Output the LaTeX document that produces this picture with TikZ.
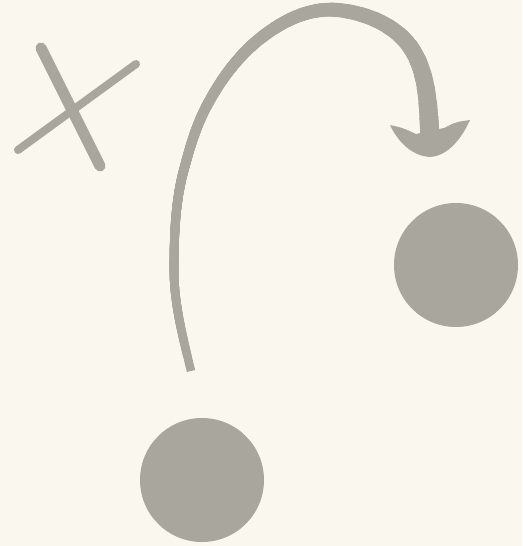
\documentclass[tikz,border=0pt]{standalone}
\definecolor{bgc}{HTML}{FAF8EE}
\definecolor{ink}{HTML}{A8A69D}
\begin{document}
\begin{tikzpicture}[x=1pt,y=-1pt,
  dot/.style={circle,fill=ink,draw=none,minimum size=124pt,inner sep=0pt},
  stroke/.style={draw=ink,line cap=round},
  shaft/.style={draw=ink,line cap=butt,line join=round}]
\fill[bgc] (0,0) rectangle (522,546);
\useasboundingbox (0,0) rectangle (522,546);
% X mark
\draw[stroke,line width=11pt] (41,48) -- (100,166);
\draw[stroke,line width=8pt] (136,64) -- (18,150);
% circles
\node[dot] (c1) at (456,265) {};
\node[dot] (c2) at (202,480) {};
% curve anchor points
\coordinate (p0) at (191,371);
\coordinate (p1) at (174,270);
\coordinate (p2) at (182,177);
\coordinate (p3) at (210,100);
\coordinate (p4) at (257,41);
\coordinate (p5) at (338,10);
\coordinate (p6) at (413,51);
\coordinate (p7) at (430,136);
% curved arrow shaft, tapered: the same path drawn ever wider, each layer starting further along
\draw[shaft,line width=8.5pt] (p0) .. controls (183,338) and (174,304) .. (p1)
  .. controls (174,239) and (175,207) .. (p2)
  .. controls (189,150) and (196,124) .. (p3)
  .. controls (222,78) and (238,57) .. (p4)
  .. controls (280,22) and (308,7) .. (p5)
  .. controls (367,13) and (398,26) .. (p6)
  .. controls (428,76) and (428,107) .. (p7);
\foreach \k in {1,...,40}{
  \pgfmathsetmacro\w{8.5+10.5*(\k/40)^2}
  \pgfmathsetmacro\off{\k*15}
  \draw[shaft,line width=\w pt,dash pattern=on 0pt off \off pt on 3000pt off 1pt]
    (p0) .. controls (183,338) and (174,304) .. (p1)
  .. controls (174,239) and (175,207) .. (p2)
  .. controls (189,150) and (196,124) .. (p3)
  .. controls (222,78) and (238,57) .. (p4)
  .. controls (280,22) and (308,7) .. (p5)
  .. controls (367,13) and (398,26) .. (p6)
  .. controls (428,76) and (428,107) .. (p7);
}
% arrow head
\fill[ink] (390,125) .. controls (403,128) .. (416,134) -- (444,128)
  .. controls (456,122) .. (470,120)
  .. controls (462,138) and (448,156) .. (430,157)
  .. controls (412,156) and (398,142) .. (390,125) -- cycle;
\end{tikzpicture}
\end{document}
